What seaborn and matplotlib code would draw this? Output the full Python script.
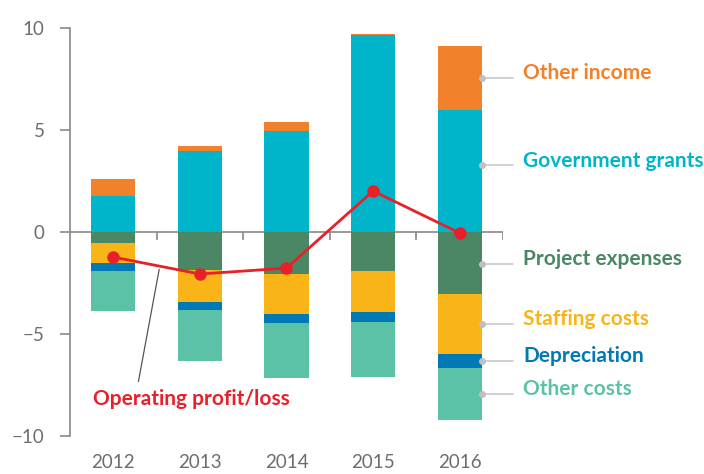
import numpy as np
import pandas as pd
import matplotlib
matplotlib.use("Agg")
import matplotlib.pyplot as plt
import seaborn as sns

# ---- data ----
years = ["2012", "2013", "2014", "2015", "2016"]
other_income = [0.84, 0.25, 0.44, 0.06, 3.14]
government_grants = [1.75, 3.97, 4.95, 9.65, 5.98]
project_expenses = [0.55, 1.88, 2.08, 1.93, 3.06]
staffing_costs = [0.98, 1.53, 1.96, 1.97, 2.90]
depreciation = [0.39, 0.39, 0.44, 0.49, 0.69]
other_costs = [1.95, 2.54, 2.70, 2.70, 2.55]
operating_profit = [-1.23, -2.06, -1.77, 2.01, -0.05]

series_names = ["Other income", "Government grants", "Project expenses",
                "Staffing costs", "Depreciation", "Other costs"]
series_colors = ["#F2812C", "#00B5C9", "#4B8764", "#F9B418", "#0079B4", "#5BC2A8"]
label_y = [7.55, 3.27, -1.55, -4.49, -6.31, -7.94]
red = "#E8202A"
grey = "#888888"
text_grey = "#6d6d6d"

sns.set_style("white")
plt.rcParams["font.family"] = ["Lato", "DejaVu Sans"]

df = pd.DataFrame({
    "year": years,
    "oi": other_income, "gg": government_grants, "pe": project_expenses,
    "sc": staffing_costs, "dep": depreciation, "oc": other_costs,
    "op": operating_profit,
})

fig, ax = plt.subplots(figsize=(7.04, 4.74), dpi=100)
fig.subplots_adjust(left=70/704, right=503/704, bottom=38/474, top=446/474)

# stacked bars drawn as overlapping cumulative layers
pos1 = df["gg"] + df["oi"]
pos2 = df["gg"]
neg1 = -(df["pe"] + df["sc"] + df["dep"] + df["oc"])
neg2 = -(df["pe"] + df["sc"] + df["dep"])
neg3 = -(df["pe"] + df["sc"])
neg4 = -df["pe"]
layers = [(pos1, series_colors[0]), (pos2, series_colors[1]),
          (neg1, series_colors[5]), (neg2, series_colors[4]),
          (neg3, series_colors[3]), (neg4, series_colors[2])]
for vals, col in layers:
    sns.barplot(x=df["year"], y=vals, order=years, color=col, saturation=1,
                width=0.51, errorbar=None, linewidth=0, ax=ax, zorder=2)

ax.axhline(0, color=grey, lw=1.2, zorder=1)
ax.vlines(np.arange(0.5, 5, 1.0), -0.4, 0, color=grey, lw=1.2, zorder=1)

sns.pointplot(x=df["year"], y=df["op"], order=years, color=red, markers="o",
              markersize=7.5, linewidth=2, errorbar=None, ax=ax)
for coll in ax.collections + ax.lines[-1:]:
    coll.set_zorder(5)

ax.set_xlim(-0.5, 4.5)
ax.set_ylim(-10, 10)
ax.set_yticks([-10, -5, 0, 5, 10])
ax.set_xlabel("")
ax.set_ylabel("")
for s in ["top", "right", "bottom"]:
    ax.spines[s].set_visible(False)
ax.spines["left"].set_color(grey)
ax.spines["left"].set_linewidth(1.2)
ax.tick_params(axis="y", left=True, length=7.2, width=1.2, color=grey,
               labelsize=13.5, labelcolor=text_grey, pad=11)
ax.tick_params(axis="x", bottom=False, length=0, labelsize=13.5,
               labelcolor=text_grey, pad=13)

# right-hand labels with leader lines
for name, col, yy in zip(series_names, series_colors, label_y):
    ax.plot([4.26, 4.62], [yy, yy], color="#c8c8c8", lw=1.2, clip_on=False, zorder=3)
    ax.plot([4.26], [yy], "o", color="#c0c0c0", ms=4, clip_on=False, zorder=3)
    ax.text(4.73, yy - 0.06, name, color=col, fontsize=15, fontweight="bold",
            ha="left", va="baseline", clip_on=False)

# operating profit label
ax.plot([0.29, 0.53], [-7.33, -1.83], color="#555555", lw=0.9, zorder=3)
ax.text(-0.23, -8.18, "Operating profit/loss", color=red, fontsize=15,
        fontweight="bold", ha="left", va="center")

fig.savefig("out.png", dpi=100)
